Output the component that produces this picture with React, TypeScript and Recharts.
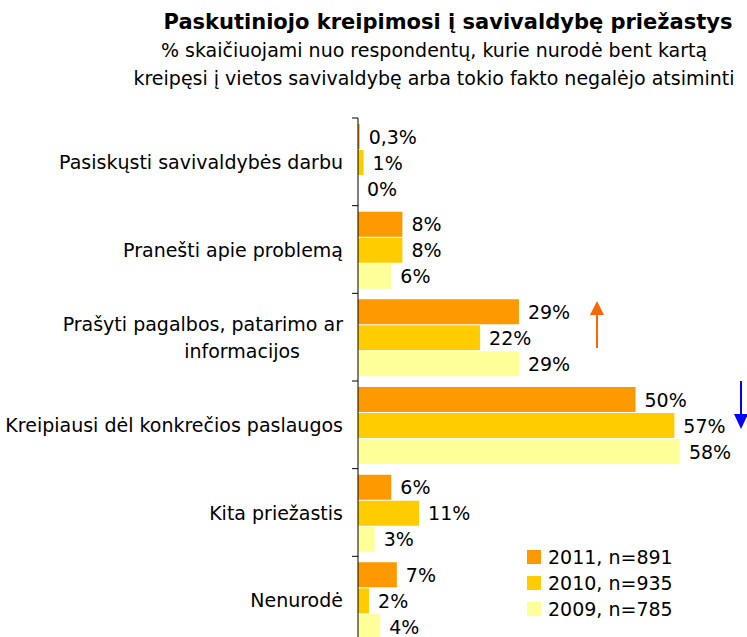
import React from 'react';
import { BarChart, Bar, XAxis, YAxis, LabelList } from 'recharts';

const categories = [
    'Pasiskųsti savivaldybės darbu',
    'Pranešti apie problemą',
    'Prašyti pagalbos, patarimo ar\ninformacijos',
    'Kreipiausi dėl konkrečios paslaugos',
    'Kita priežastis',
    'Nenurodė',
];
const v2011 = [0.3, 8, 29, 50, 6, 7];
const v2010 = [1, 8, 22, 57, 11, 2];
const v2009 = [0, 6, 29, 58, 3, 4];
const seriesNames = ['2011, n=891', '2010, n=935', '2009, n=785'];
const colors = ['#FF9900', '#FFCC00', '#FFFF99'];

const data = categories.map((name, i) => ({ name, a: v2011[i], b: v2010[i], c: v2009[i] }));

const W = 747;
const H = 644;
const TOP = 118;
const AXIS_X = 358;
const FONT = '"DejaVu Sans", sans-serif';
const band = (H - TOP) / categories.length;

const fmt = (v: any) => `${String(v).replace('.', ',')}%`;

const CatTick = (props: any) => {
    const { y, payload, index } = props;
    const lines = String(payload.value).split('\n');
    const lh = 27;
    const y0 = y - ((lines.length - 1) * lh) / 2;
    return (
        <g>
            <line x1={AXIS_X - 6} x2={AXIS_X} y1={y - band / 2} y2={y - band / 2} stroke="#000" />
            {index === categories.length - 1 && (
                <line x1={AXIS_X - 6} x2={AXIS_X} y1={y + band / 2} y2={y + band / 2} stroke="#000" />
            )}
            {lines.map((l, i) => (
                // wrapped line sits a bit further left, like the original
                <text key={i} x={AXIS_X - 15 - (i > 0 ? 43 : 0)} y={y0 + i * lh} textAnchor="end"
                    dominantBaseline="central" fontSize={19} fontFamily={FONT} fill="#000">{l}</text>
            ))}
        </g>
    );
};

const ValueLabel = (props: any) => {
    const { x, y, width, height, value } = props;
    return (
        <text x={Number(x) + Number(width || 0) + 9} y={Number(y) + Number(height) / 2} dominantBaseline="central"
            fontSize={19} fontFamily={FONT} fill="#000">{fmt(value)}</text>
    );
};

export default function App() {
    return (
        <div style={{ position: 'absolute', left: 0, top: 0, width: W, height: 637, overflow: 'hidden', background: '#fff' }}>
            <BarChart width={W} height={H} data={data} layout="vertical"
                margin={{ top: TOP, right: 56, bottom: 0, left: 0 }} barCategoryGap={6} barGap={1}>
                <XAxis type="number" domain={[0, 60]} hide />
                <YAxis type="category" dataKey="name" width={AXIS_X} tickLine={false}
                    axisLine={{ stroke: '#000' }} tick={<CatTick />} interval={0} />
                {['a', 'b', 'c'].map((k, i) => (
                    <Bar key={k} dataKey={k} name={seriesNames[i]} fill={colors[i]} minPointSize={0.01}
                        isAnimationActive={false}>
                        <LabelList dataKey={k} content={<ValueLabel />} />
                    </Bar>
                ))}
            </BarChart>
            <div style={{ position: 'absolute', left: 527, top: 544, fontFamily: FONT, fontSize: 19 }}>
                {seriesNames.map((s, i) => (
                    <div key={s} style={{ display: 'flex', alignItems: 'center', height: 26 }}>
                        <span style={{ width: 14, height: 14, background: colors[i], marginRight: 7 }} />
                        <span>{s}</span>
                    </div>
                ))}
            </div>
            <svg width={W} height={637} style={{ position: 'absolute', left: 0, top: 0, pointerEvents: 'none' }}>
                <text x={448} y={22} textAnchor="middle" dominantBaseline="central" fontSize={21}
                    fontWeight="bold" fontFamily={FONT}>Paskutiniojo kreipimosi į savivaldybę priežastys</text>
                <text x={434} y={50} textAnchor="middle" dominantBaseline="central" fontSize={19}
                    fontFamily={FONT}>% skaičiuojami nuo respondentų, kurie nurodė bent kartą</text>
                <text x={434} y={78} textAnchor="middle" dominantBaseline="central" fontSize={19}
                    fontFamily={FONT}>kreipęsi į vietos savivaldybę arba tokio fakto negalėjo atsiminti</text>
                <line x1={597} x2={597} y1={348} y2={313} stroke="#FF6600" strokeWidth={2} />
                <polygon points="590,315 604,315 597,301" fill="#FF6600" />
                <line x1={741} x2={741} y1={381} y2={416} stroke="#0000FF" strokeWidth={2} />
                <polygon points="734,414 748,414 741,429" fill="#0000FF" />
            </svg>
        </div>
    );
}
